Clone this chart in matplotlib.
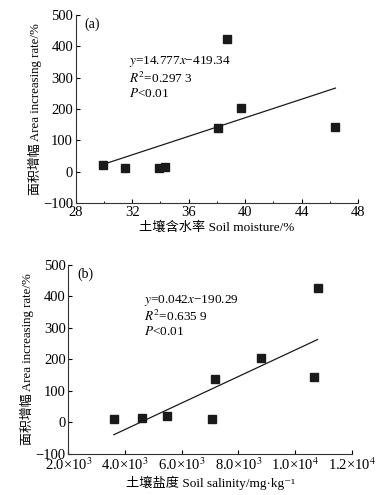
import matplotlib.pyplot as plt
from matplotlib.ticker import FixedLocator, MultipleLocator

plt.rcParams['font.family'] = ['Liberation Serif', 'Noto Sans CJK SC', 'DejaVu Serif']
plt.rcParams['mathtext.fontset'] = 'stix'

# (a) soil moisture vs area increasing rate
moisture = [29.9, 31.5, 33.9, 34.3, 38.1, 38.7, 39.7, 46.4]
rate_a = [20, 12, 12, 14, 138, 423, 203, 143]

# (b) soil salinity vs area increasing rate
salinity = [3600, 4600, 5470, 7070, 7180, 8790, 10670, 10790]
rate_b = [12, 14, 20, 12, 138, 203, 143, 425]

x_ticks_b = [2000, 4000, 6000, 8000, 10000, 12000]
x_labels_b = ['2.0×10$^3$', '4.0×10$^3$', '6.0×10$^3$', '8.0×10$^3$',
              '1.0×10$^4$', '1.2×10$^4$']
y_ticks = [-100, 0, 100, 200, 300, 400, 500]

fig = plt.figure(figsize=(3.87, 4.95), dpi=100)
ax1 = fig.add_axes([0.196, 0.590, 0.729, 0.380])
ax2 = fig.add_axes([0.177, 0.083, 0.732, 0.382])


def style(ax):
    for s in ['top', 'right']:
        ax.spines[s].set_visible(False)
    for s in ['left', 'bottom']:
        ax.spines[s].set_linewidth(0.8)
        ax.spines[s].set_color('#333333')
    ax.tick_params(direction='in', labelsize=10.5, length=3, width=0.8, pad=2)
    ax.tick_params(which='minor', direction='in', length=1.5, width=0.6)
    ax.set_ylim(-100, 500)
    ax.yaxis.set_major_locator(FixedLocator(y_ticks))
    ax.set_ylabel('面积增幅 Area increasing rate/%', fontsize=9.3, labelpad=1)


# panel (a)
style(ax1)
ax1.plot(moisture, rate_a, 's', color='#1a1a1a', markersize=5.5)
fit_x = [min(moisture), max(moisture)]
ax1.plot(fit_x, [14.777 * v - 419.34 for v in fit_x], color='#1a1a1a', lw=0.9)
ax1.set_xlim(28, 48)
ax1.xaxis.set_major_locator(MultipleLocator(4))
ax1.xaxis.set_minor_locator(MultipleLocator(2))
ax1.set_xlabel('土壤含水率 Soil moisture/%', fontsize=9.5, labelpad=2)
ax1.text(0.03, 0.95, '(a)', transform=ax1.transAxes, fontsize=10, va='center')
ax1.text(0.19, 0.79, '$y$=14.777$x$−419.34\n$R^2$=0.297 3\n$P$<0.01',
         transform=ax1.transAxes, fontsize=9.5, va='top', linespacing=1.1)

# panel (b)
style(ax2)
ax2.plot(salinity, rate_b, 's', color='#1a1a1a', markersize=5.5)
fit_x = [min(salinity), max(salinity)]
ax2.plot(fit_x, [0.042 * v - 190.29 for v in fit_x], color='#1a1a1a', lw=0.9)
ax2.set_xlim(2000, 12000)
ax2.set_xticks(x_ticks_b)
ax2.set_xticklabels(x_labels_b)
ax2.set_xlabel('土壤盐度 Soil salinity/mg·kg⁻¹', fontsize=9.5, labelpad=2)
ax2.text(0.03, 0.95, '(b)', transform=ax2.transAxes, fontsize=10, va='center')
ax2.text(0.267, 0.85, '$y$=0.042$x$−190.29\n$R^2$=0.635 9\n$P$<0.01',
         transform=ax2.transAxes, fontsize=9.5, va='top', linespacing=1.1)

fig.savefig('out.png', dpi=100)
